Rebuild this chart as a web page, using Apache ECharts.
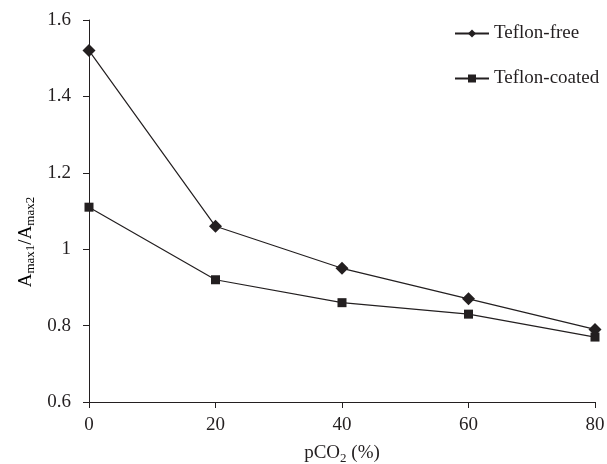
<!DOCTYPE html>
<html>
<head>
<meta charset="utf-8">
<script src="https://cdn.jsdelivr.net/npm/echarts@6/dist/echarts.min.js"></script>
<style>
html, body { margin: 0; padding: 0; background: #fff; }
#chart { width: 607px; height: 464px; }
</style>
</head>
<body>
<div id="chart"></div>
<script>
// Partial CO2 pressure (%) on the x axis
const pco2 = [0, 20, 40, 60, 80];
// Ratio Amax1 / Amax2 for each electrode
const teflonFree = [1.52, 1.06, 0.95, 0.87, 0.79];
const teflonCoated = [1.11, 0.92, 0.86, 0.83, 0.77];
const seriesNames = ['Teflon-free', 'Teflon-coated'];
// Axis ranges and tick steps
const xTicks = [0, 20, 40, 60, 80];
const yTicks = [0.6, 0.8, 1, 1.2, 1.4, 1.6];

const FONT = '"Liberation Serif", "Times New Roman", serif';
const INK = '#231f20';

const chart = echarts.init(document.getElementById('chart'), null, { renderer: 'canvas' });

const pairs = (ys) => pco2.map((x, i) => [x, ys[i]]);

// Rich text styles: normal glyphs and lowered subscripts
const subRich = {
  a: { fontFamily: FONT, fontSize: 19, color: INK },
  s: { fontFamily: FONT, fontSize: 13, color: INK, padding: [10, 0, 0, 0] }
};

chart.setOption({
  animation: false,
  backgroundColor: '#fff',
  grid: { left: 89, right: 12, top: 20, bottom: 62, containLabel: false, outerBoundsMode: 'none' },
  xAxis: {
    type: 'value',
    min: xTicks[0],
    max: xTicks[xTicks.length - 1],
    interval: xTicks[1] - xTicks[0],
    name: '{a|pCO}{s|2}{a| (%)}',
    nameLocation: 'middle',
    nameGap: 40,
    nameTextStyle: { rich: subRich },
    axisLine: { show: true, lineStyle: { color: INK, width: 1 } },
    axisTick: { show: true, inside: false, length: 6, lineStyle: { color: INK } },
    axisLabel: { margin: 14, fontFamily: FONT, fontSize: 19, color: INK },
    splitLine: { show: false }
  },
  yAxis: {
    type: 'value',
    min: yTicks[0],
    max: yTicks[yTicks.length - 1],
    interval: 0.2,
    axisLine: { show: true, lineStyle: { color: INK, width: 1 } },
    axisTick: { show: true, inside: false, length: 6, lineStyle: { color: INK } },
    axisLabel: { margin: 18, fontFamily: FONT, fontSize: 19, color: INK },
    splitLine: { show: false }
  },
  legend: {
    orient: 'vertical',
    left: 449,
    top: 19,
    itemWidth: 34,
    itemHeight: 10,
    itemGap: 26,
    data: seriesNames,
    textStyle: { fontFamily: FONT, fontSize: 19, color: INK }
  },
  graphic: [{
    type: 'text',
    x: 26,
    y: 242,
    rotation: Math.PI / 2,
    style: {
      text: '{a|A}{s|max1}{a|/A}{s|max2}',
      rich: subRich,
      align: 'center',
      verticalAlign: 'middle'
    }
  }],
  series: [
    {
      name: seriesNames[0],
      type: 'line',
      data: pairs(teflonFree),
      symbol: 'diamond',
      symbolSize: 13,
      lineStyle: { color: INK, width: 1.2 },
      itemStyle: { color: INK },
      z: 3
    },
    {
      name: seriesNames[1],
      type: 'line',
      data: pairs(teflonCoated),
      symbol: 'rect',
      symbolSize: 9,
      lineStyle: { color: INK, width: 1.2 },
      itemStyle: { color: INK },
      z: 2
    }
  ]
});
</script>
</body>
</html>
